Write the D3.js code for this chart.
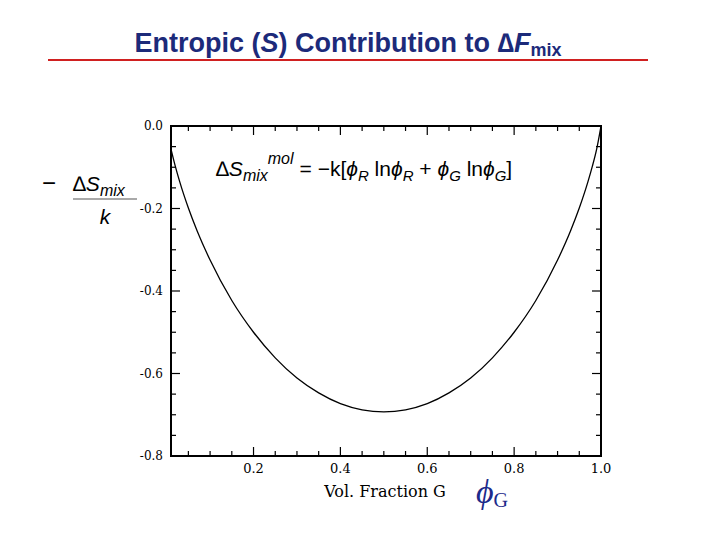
<!DOCTYPE html>
<html><head><meta charset="utf-8">
<script src="https://cdn.jsdelivr.net/npm/d3@7"></script>
<style>body{margin:0;background:#fff}</style>
</head><body>
<svg id="chart" width="720" height="540"></svg>
<script>
// values
let fractionG = [0.01, 0.02, 0.03, 0.05, 0.07, 0.1, 0.15, 0.2, 0.25, 0.3, 0.35, 0.4, 0.45, 0.5,
    0.55, 0.6, 0.65, 0.7, 0.75, 0.8, 0.85, 0.9, 0.93, 0.95, 0.97, 0.98, 0.99, 1.0];
let entropyVals = [-0.056, -0.098, -0.135, -0.199, -0.254, -0.325, -0.423, -0.500, -0.562, -0.611, -0.647, -0.673, -0.688, -0.693,
    -0.688, -0.673, -0.647, -0.611, -0.562, -0.500, -0.423, -0.325, -0.254, -0.199, -0.135, -0.098, -0.056, 0.0];
let xTickLabels = [0.2, 0.4, 0.6, 0.8, 1.0];
let yTickLabels = [0.0, -0.2, -0.4, -0.6, -0.8];

let svg = d3.select("#chart");
let pLeft = 171, pRight = 601, pTop = 126, pBottom = 456;
let x = d3.scaleLinear().domain([0.01, 1.0]).range([pLeft, pRight]);
let y = d3.scaleLinear().domain([-0.8, 0]).range([pBottom, pTop]);

// title
let title = svg.append("text").attr("x", 348).attr("y", 52).attr("text-anchor", "middle")
    .attr("font-family", "Liberation Sans, Arial").attr("font-weight", "bold").attr("font-size", 27)
    .attr("fill", "#1c2a7a");
title.append("tspan").text("Entropic (");
title.append("tspan").attr("font-style", "italic").text("S");
title.append("tspan").text(") Contribution to ∆");
title.append("tspan").attr("font-style", "italic").text("F");
title.append("tspan").attr("font-size", 18).attr("dy", 4).text("mix");
svg.append("line").attr("x1", 48).attr("x2", 648).attr("y1", 60).attr("y2", 60)
    .attr("stroke", "#d02020").attr("stroke-width", 2);

// axes with inward ticks
let minorX = d3.range(0.05, 1.0001, 0.05);
let minorY = d3.range(-0.8, 0.0001, 0.05);
function tickLen(v, step) { return Math.abs(v / step - Math.round(v / step)) < 1e-6 ? 9 : 5; }
let g = svg.append("g").attr("stroke", "#000").attr("stroke-width", 1.2);
minorX.forEach(v => {
    let l = tickLen(v, 0.2);
    g.append("line").attr("x1", x(v)).attr("x2", x(v)).attr("y1", pBottom).attr("y2", pBottom - l);
    g.append("line").attr("x1", x(v)).attr("x2", x(v)).attr("y1", pTop).attr("y2", pTop + l);
});
minorY.forEach(v => {
    let l = tickLen(v, 0.2);
    g.append("line").attr("y1", y(v)).attr("y2", y(v)).attr("x1", pLeft).attr("x2", pLeft + l);
    g.append("line").attr("y1", y(v)).attr("y2", y(v)).attr("x1", pRight).attr("x2", pRight - l);
});
svg.append("rect").attr("x", pLeft).attr("y", pTop).attr("width", pRight - pLeft).attr("height", pBottom - pTop)
    .attr("fill", "none").attr("stroke", "#000").attr("stroke-width", 2);

svg.selectAll(".xl").data(xTickLabels).enter().append("text")
    .attr("x", d => x(d)).attr("y", pBottom + 17).attr("text-anchor", "middle")
    .attr("font-family", "DejaVu Serif").attr("font-size", 13).text(d => d.toFixed(1));
svg.selectAll(".yl").data(yTickLabels).enter().append("text")
    .attr("x", pLeft - 8).attr("y", d => y(d) + 4).attr("text-anchor", "end")
    .attr("font-family", "DejaVu Serif").attr("font-size", 12).text(d => d.toFixed(1));

// curve
let line = d3.line().x((d, i) => x(fractionG[i])).y(d => y(d)).curve(d3.curveMonotoneX);
svg.append("path").attr("d", line(entropyVals)).attr("fill", "none").attr("stroke", "#000").attr("stroke-width", 1.3);

// equation
let eq = svg.append("text").attr("x", 216).attr("y", 176).attr("font-family", "Liberation Sans, Arial").attr("font-size", 21);
eq.append("tspan").text("∆");
eq.append("tspan").attr("font-style", "italic").text("S");
eq.append("tspan").attr("font-style", "italic").attr("font-size", 16).attr("dy", 5).text("mix");
eq.append("tspan").attr("font-style", "italic").attr("font-size", 16).attr("dy", -17).text("mol");
eq.append("tspan").attr("dy", 12).attr("dx", 6).text("= −k[");
eq.append("tspan").attr("font-style", "italic").text("ϕ");
eq.append("tspan").attr("font-style", "italic").attr("font-size", 15).attr("dy", 5).text("R");
eq.append("tspan").attr("dy", -5).text(" ln");
eq.append("tspan").attr("font-style", "italic").text("ϕ");
eq.append("tspan").attr("font-style", "italic").attr("font-size", 15).attr("dy", 5).text("R");
eq.append("tspan").attr("dy", -5).text(" + ");
eq.append("tspan").attr("font-style", "italic").text("ϕ");
eq.append("tspan").attr("font-style", "italic").attr("font-size", 15).attr("dy", 5).text("G");
eq.append("tspan").attr("dy", -5).text(" ln");
eq.append("tspan").attr("font-style", "italic").text("ϕ");
eq.append("tspan").attr("font-style", "italic").attr("font-size", 15).attr("dy", 5).text("G");
eq.append("tspan").attr("dy", -5).text("]");

// y label
svg.append("text").attr("x", 42).attr("y", 191).attr("font-family", "Liberation Sans, Arial").attr("font-size", 24).text("−");
let yl = svg.append("text").attr("x", 73).attr("y", 191).attr("font-family", "Liberation Sans, Arial").attr("font-size", 21);
yl.append("tspan").text("∆");
yl.append("tspan").attr("font-style", "italic").text("S");
yl.append("tspan").attr("font-style", "italic").attr("font-size", 16).attr("dy", 5).text("mix");
svg.append("line").attr("x1", 73).attr("x2", 137).attr("y1", 199).attr("y2", 199).attr("stroke", "#555").attr("stroke-width", 1.2);
svg.append("text").attr("x", 105).attr("y", 224).attr("text-anchor", "middle").attr("font-family", "Liberation Sans, Arial")
    .attr("font-style", "italic").attr("font-size", 21).text("k");

// x label
svg.append("text").attr("x", 385).attr("y", 497).attr("text-anchor", "middle").attr("font-family", "DejaVu Serif")
    .attr("font-size", 16).text("Vol. Fraction G");
let phi = svg.append("text").attr("x", 476).attr("y", 503).attr("font-family", "Liberation Serif").attr("fill", "#1c2a8a");
phi.append("tspan").attr("font-style", "italic").attr("font-size", 34).text("ϕ");
phi.append("tspan").attr("font-size", 20).attr("dy", 4).text("G");
</script>
</body></html>
